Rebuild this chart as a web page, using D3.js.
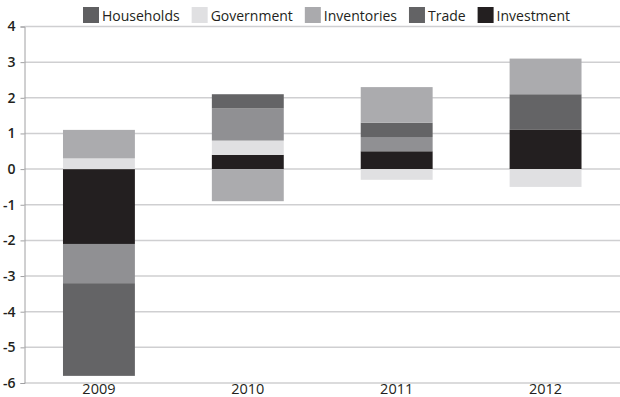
<!DOCTYPE html>
<html>
<head>
<meta charset="utf-8">
<script src="https://cdn.jsdelivr.net/npm/d3@7"></script>
<style>
  html, body { margin: 0; padding: 0; background: #fff; }
  svg { display: block; font-family: "Open Sans", "DejaVu Sans", sans-serif; }
</style>
</head>
<body>
<svg id="chart" width="620" height="397"></svg>
<script>
// Contributions to annual GDP growth, percentage points
const years = ["2009", "2010", "2011", "2012"];
const investment  = [-2.1, 0.4, 0.5, 1.1];
const government  = [0.3, 0.4, -0.3, -0.5];
const inventories = [-1.1, 0.9, 0.4, 0.0];
const households  = [-2.6, 0.4, 0.4, 1.0];
const trade       = [0.8, -0.9, 1.0, 1.0];
const yTicks = [4, 3, 2, 1, 0, -1, -2, -3, -4, -5, -6];

// Stacking order outward from zero
const stackKeys = ["Investment", "Government", "Inventories", "Households", "Trade"];
const barColors = {
  Investment: "#231f20",
  Government: "#e0e0e2",
  Inventories: "#909093",
  Households: "#646466",
  Trade: "#ababae"
};

// Legend entries, left to right
const legendKeys = ["Households", "Government", "Inventories", "Trade", "Investment"];
const swatchColors = ["#5f5f61", "#e0e0e2", "#aaaaad", "#636365", "#231f20"];

const rows = years.map((y, i) => ({
  year: y,
  Investment: investment[i],
  Government: government[i],
  Inventories: inventories[i],
  Households: households[i],
  Trade: trade[i]
}));

const svg = d3.select("#chart");
const margin = { left: 24.5, right: 0 };
const W = 620;

const x = d3.scaleBand()
  .domain(years)
  .range([margin.left, W - margin.right])
  .paddingInner(0.517)
  .paddingOuter(0.2585);

const y = d3.scaleLinear()
  .domain([-6, 4])
  .range([383, 26.5]);

// Horizontal gridlines
svg.append("g")
  .selectAll("line")
  .data(yTicks)
  .join("line")
  .attr("x1", margin.left)
  .attr("x2", W)
  .attr("y1", d => y(d))
  .attr("y2", d => y(d))
  .attr("stroke", "#cfcfd1")
  .attr("stroke-width", 1.5);

// Stacked segments
const series = d3.stack()
  .keys(stackKeys)
  .offset(d3.stackOffsetDiverging)(rows);

svg.append("g")
  .selectAll("g")
  .data(series)
  .join("g")
  .attr("fill", s => barColors[s.key])
  .selectAll("rect")
  .data(s => s)
  .join("rect")
  .attr("x", d => x(d.data.year))
  .attr("width", x.bandwidth())
  .attr("y", d => y(Math.max(d[0], d[1])))
  .attr("height", d => Math.abs(y(d[0]) - y(d[1])));

// Left axis
const yAxis = d3.axisLeft(y)
  .tickValues(yTicks)
  .tickFormat(d => String(d))
  .tickSize(4)
  .tickPadding(5);

const ag = svg.append("g")
  .attr("transform", `translate(${margin.left},0)`)
  .call(yAxis);
ag.select(".domain").attr("stroke", "#a0a0a2").attr("stroke-width", 1);
ag.selectAll(".tick line").attr("stroke", "#a0a0a2");
ag.selectAll(".tick text")
  .attr("font-family", "'Open Sans', sans-serif")
  .attr("font-size", 14)
  .attr("font-weight", 600)
  .attr("fill", "#231f20");

// Category labels
svg.append("g")
  .selectAll("text")
  .data(years)
  .join("text")
  .attr("x", d => x(d) + x.bandwidth() / 2)
  .attr("y", 394)
  .attr("text-anchor", "middle")
  .attr("font-size", 14.5)
  .attr("fill", "#231f20")
  .text(d => d);

// Legend
const lg = svg.append("g");
let lx = 83;
legendKeys.forEach((k, i) => {
  lg.append("rect")
    .attr("x", lx).attr("y", 7)
    .attr("width", 16).attr("height", 16)
    .attr("fill", swatchColors[i]);
  const t = lg.append("text")
    .attr("x", lx + 19)
    .attr("y", 21)
    .attr("font-size", 14)
    .attr("fill", "#231f20")
    .text(k);
  lx += 19 + t.node().getComputedTextLength() + 12;
});
</script>
</body>
</html>
